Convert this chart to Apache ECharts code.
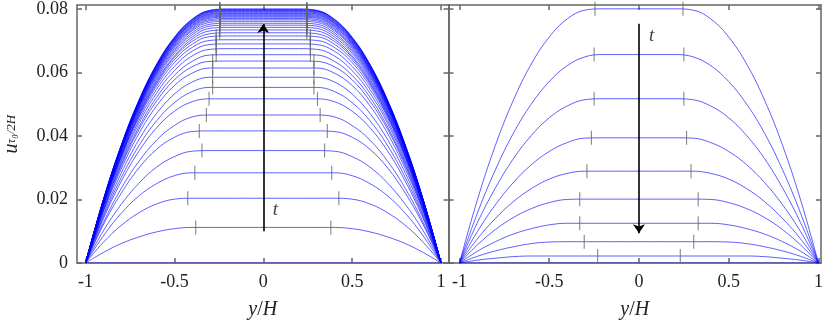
<!DOCTYPE html>
<html>
<head>
<meta charset="utf-8">
<script src="https://cdn.jsdelivr.net/npm/echarts@6/dist/echarts.min.js"></script>
<style>
html, body { margin: 0; padding: 0; background: #fff; }
#chart { width: 830px; height: 325px; }
</style>
</head>
<body>
<div id="chart"></div>
<script>
// half profiles are sampled at these distances from the wall (y/H + 1), centre = 1
const wallDist = [0, 0.1, 0.2, 0.3, 0.4, 0.5, 0.6, 0.7, 0.8, 1.0]
const xTicks = [-1, -0.5, 0, 0.5, 1]
const yTicks = [0, 0.02, 0.04, 0.06, 0.08]

// left panel: start-up, one half profile per time step
const startupProfiles = [
  [0, 0, 0, 0, 0, 0, 0, 0, 0, 0],
  [0, 0.0033, 0.0061, 0.0082, 0.0098, 0.0108, 0.0112, 0.0112, 0.0112, 0.0112],
  [0, 0.0065, 0.0118, 0.0158, 0.0186, 0.0201, 0.0204, 0.0204, 0.0204, 0.0204],
  [0, 0.0085, 0.0156, 0.0211, 0.0250, 0.0275, 0.0284, 0.0284, 0.0284, 0.0284],
  [0, 0.0101, 0.0184, 0.0251, 0.0302, 0.0335, 0.0352, 0.0354, 0.0354, 0.0354],
  [0, 0.0120, 0.0219, 0.0299, 0.0358, 0.0396, 0.0414, 0.0416, 0.0416, 0.0416],
  [0, 0.0127, 0.0234, 0.0320, 0.0387, 0.0433, 0.0460, 0.0466, 0.0466, 0.0466],
  [0, 0.0139, 0.0256, 0.0352, 0.0426, 0.0478, 0.0508, 0.0517, 0.0517, 0.0517],
  [0, 0.0145, 0.0268, 0.0369, 0.0448, 0.0505, 0.0540, 0.0553, 0.0553, 0.0553],
  [0, 0.0152, 0.0282, 0.0388, 0.0471, 0.0532, 0.0570, 0.0585, 0.0585, 0.0585],
  [0, 0.0160, 0.0295, 0.0407, 0.0495, 0.0559, 0.0598, 0.0614, 0.0614, 0.0614],
  [0, 0.0164, 0.0304, 0.0420, 0.0510, 0.0577, 0.0618, 0.0635, 0.0636, 0.0636],
  [0, 0.0167, 0.0310, 0.0428, 0.0522, 0.0591, 0.0635, 0.0655, 0.0656, 0.0656],
  [0, 0.0171, 0.0317, 0.0439, 0.0535, 0.0606, 0.0652, 0.0673, 0.0675, 0.0675],
  [0, 0.0175, 0.0324, 0.0448, 0.0547, 0.0619, 0.0667, 0.0688, 0.0690, 0.0690],
  [0, 0.0178, 0.0331, 0.0457, 0.0557, 0.0631, 0.0679, 0.0701, 0.0703, 0.0703],
  [0, 0.0180, 0.0334, 0.0462, 0.0564, 0.0640, 0.0689, 0.0713, 0.0715, 0.0715],
  [0, 0.0182, 0.0337, 0.0466, 0.0569, 0.0647, 0.0698, 0.0722, 0.0725, 0.0725],
  [0, 0.0183, 0.0339, 0.0470, 0.0574, 0.0652, 0.0705, 0.0731, 0.0734, 0.0734],
  [0, 0.0185, 0.0343, 0.0475, 0.0580, 0.0660, 0.0712, 0.0739, 0.0742, 0.0742],
  [0, 0.0186, 0.0346, 0.0479, 0.0586, 0.0666, 0.0719, 0.0746, 0.0749, 0.0749],
  [0, 0.0188, 0.0349, 0.0483, 0.0591, 0.0671, 0.0725, 0.0752, 0.0755, 0.0755],
  [0, 0.0189, 0.0352, 0.0487, 0.0595, 0.0676, 0.0731, 0.0758, 0.0761, 0.0761],
  [0, 0.0191, 0.0354, 0.0490, 0.0599, 0.0681, 0.0735, 0.0763, 0.0766, 0.0766],
  [0, 0.0192, 0.0356, 0.0493, 0.0602, 0.0684, 0.0739, 0.0767, 0.0770, 0.0770],
  [0, 0.0193, 0.0358, 0.0495, 0.0605, 0.0688, 0.0743, 0.0771, 0.0774, 0.0774],
  [0, 0.0193, 0.0359, 0.0497, 0.0608, 0.0691, 0.0746, 0.0774, 0.0777, 0.0777],
  [0, 0.0194, 0.0361, 0.0499, 0.0610, 0.0693, 0.0749, 0.0777, 0.0780, 0.0780],
  [0, 0.0195, 0.0362, 0.0501, 0.0612, 0.0696, 0.0752, 0.0780, 0.0783, 0.0783],
  [0, 0.0196, 0.0363, 0.0503, 0.0615, 0.0699, 0.0755, 0.0783, 0.0786, 0.0786],
  [0, 0.0196, 0.0364, 0.0504, 0.0616, 0.0700, 0.0756, 0.0785, 0.0788, 0.0788],
  [0, 0.0197, 0.0366, 0.0506, 0.0619, 0.0703, 0.0759, 0.0788, 0.0791, 0.0791],
  [0, 0.0197, 0.0367, 0.0508, 0.0620, 0.0705, 0.0761, 0.0790, 0.0793, 0.0793],
  [0, 0.0198, 0.0367, 0.0509, 0.0622, 0.0707, 0.0763, 0.0792, 0.0795, 0.0795],
  [0, 0.0198, 0.0368, 0.0510, 0.0623, 0.0708, 0.0765, 0.0794, 0.0797, 0.0797],
  [0, 0.0199, 0.0369, 0.0511, 0.0625, 0.0710, 0.0767, 0.0795, 0.0799, 0.0799],
  [0, 0.0199, 0.0370, 0.0512, 0.0626, 0.0711, 0.0768, 0.0796, 0.0800, 0.0800]
]
// |y/H| of the yield surface for each start-up profile (null = no mark)
const startupYield = [null, 0.38, 0.425, 0.385, 0.345, 0.36, 0.32, 0.305,
  0.285, 0.285, 0.285, 0.285, 0.265, 0.265, 0.265, 0.265, 0.265,
  0.245, 0.245, 0.245, 0.245, 0.245, 0.245, 0.245, 0.245, 0.245, 0.245,
  0.245, 0.245, 0.245, 0.245, 0.245, 0.245, 0.245, 0.245, 0.245, 0.245]

// right panel: decay
const stopProfiles = [
  [0, 0.0199, 0.0370, 0.0512, 0.0626, 0.0711, 0.0768, 0.0796, 0.0800, 0.0800],
  [0, 0.0157, 0.0293, 0.0408, 0.0500, 0.0571, 0.0621, 0.0649, 0.0656, 0.0656],
  [0, 0.0127, 0.0236, 0.0328, 0.0401, 0.0457, 0.0494, 0.0514, 0.0517, 0.0517],
  [0, 0.0099, 0.0183, 0.0253, 0.0309, 0.0351, 0.0379, 0.0393, 0.0394, 0.0394],
  [0, 0.0076, 0.0140, 0.0193, 0.0234, 0.0264, 0.0282, 0.0289, 0.0289, 0.0289],
  [0, 0.0057, 0.0105, 0.0143, 0.0171, 0.0190, 0.0200, 0.0201, 0.0201, 0.0201],
  [0, 0.0037, 0.0067, 0.0091, 0.0108, 0.0120, 0.0125, 0.0125, 0.0125, 0.0125],
  [0, 0.0021, 0.0038, 0.0051, 0.0061, 0.0066, 0.0067, 0.0067, 0.0067, 0.0067],
  [0, 0.0009, 0.0015, 0.0020, 0.0022, 0.0022, 0.0022, 0.0022, 0.0022, 0.0022],
  [0, 0, 0, 0, 0, 0, 0, 0, 0, 0]
]
const stopYield = [0.245, 0.25, 0.25, 0.265, 0.29, 0.33, 0.33, 0.305, 0.23, null]

const arrowUp = [[0, 0.0100], [0, 0.0753]]
const arrowDown = [[0, 0.0753], [0, 0.0094]]
const tUp = [0.068, 0.0167]
const tDown = [0.07, 0.0713]

const SERIF = 'Liberation Serif'

function profilePoints(half) {
  let pts = []
  for (let i = 0; i < half.length; i++) pts.push([-1 + wallDist[i], half[i]])
  for (let i = half.length - 2; i >= 0; i--) pts.push([1 - wallDist[i], half[i]])
  return pts
}

function yieldPoints(profiles, yields) {
  let pts = []
  profiles.forEach(function (half, i) {
    if (yields[i] == null) return
    let plateau = half[half.length - 1]
    pts.push([-yields[i], plateau])
    pts.push([yields[i], plateau])
  })
  return pts
}

function panelSeries(profiles, yields, arrow, tPos, idx) {
  let list = profiles.map(function (half) {
    return {
      type: 'line',
      xAxisIndex: idx,
      yAxisIndex: idx,
      data: profilePoints(half),
      symbol: 'none',
      smooth: 0.4,
      silent: true,
      lineStyle: { color: '#0000ff', width: 0.9, opacity: 0.7 },
      z: 2
    }
  })
  list.push({
    type: 'scatter',
    xAxisIndex: idx,
    yAxisIndex: idx,
    data: yieldPoints(profiles, yields),
    symbol: 'rect',
    symbolSize: [1.1, 14],
    itemStyle: { color: '#666' },
    silent: true,
    z: 3
  })
  list.push({
    type: 'lines',
    coordinateSystem: 'cartesian2d',
    xAxisIndex: idx,
    yAxisIndex: idx,
    data: [{ coords: arrow }],
    symbol: ['none', 'arrow'],
    symbolSize: 9,
    lineStyle: { color: '#000', width: 1.6, opacity: 1 },
    silent: true,
    z: 4
  })
  list.push({
    type: 'scatter',
    xAxisIndex: idx,
    yAxisIndex: idx,
    data: [tPos],
    symbolSize: 0,
    label: {
      show: true,
      position: 'inside',
      formatter: 't',
      fontFamily: SERIF,
      fontStyle: 'italic',
      fontSize: 19,
      color: '#111'
    },
    silent: true,
    z: 5
  })
  return list
}

const lineStyle = { color: '#666', width: 1.5 }

function xAxis(grid, min, max, pos, labels) {
  return {
    type: 'value', gridIndex: grid, position: pos, min: min, max: max,
    name: labels ? '{i|y}{n|/}{i|H}' : '',
    nameLocation: 'middle', nameGap: 37,
    nameTextStyle: {
      rich: {
        i: { fontFamily: SERIF, fontStyle: 'italic', fontSize: 20, color: '#222' },
        n: { fontFamily: SERIF, fontSize: 20, color: '#222' }
      }
    },
    axisLine: { show: true, onZero: false, lineStyle: lineStyle },
    axisTick: { show: true, inside: true, length: 5, lineStyle: lineStyle, customValues: xTicks },
    axisLabel: { show: labels, customValues: xTicks, margin: 10, fontFamily: SERIF, fontSize: 18, color: '#222' },
    splitLine: { show: false }
  }
}

function yAxis(grid, pos, labels, name) {
  return {
    type: 'value', gridIndex: grid, position: pos, min: 0, max: 0.0812,
    name: name ? '{u|u}{s|τ₀/2H}' : '',
    nameLocation: 'middle', nameGap: 55, nameRotate: 90,
    nameTextStyle: {
      rich: {
        u: { fontFamily: SERIF, fontStyle: 'italic', fontSize: 20, color: '#222' },
        s: { fontFamily: SERIF, fontStyle: 'italic', fontSize: 13, color: '#222' }
      }
    },
    axisLine: { show: true, onZero: false, lineStyle: lineStyle },
    axisTick: { show: true, inside: true, length: 5, lineStyle: lineStyle, customValues: yTicks },
    axisLabel: { show: labels, customValues: yTicks, margin: 9, fontFamily: SERIF, fontSize: 18, color: '#222' },
    splitLine: { show: false }
  }
}

const chart = echarts.init(document.getElementById('chart'), null, { renderer: 'canvas' })
chart.setOption({
  animation: false,
  backgroundColor: '#fff',
  grid: [
    { left: 77, top: 5, width: 371.5, height: 260 },
    { left: 448.5, top: 5, width: 372.5, height: 260 }
  ],
  xAxis: [
    xAxis(0, -1.048, 1.042, 'bottom', true),
    xAxis(1, -1.061, 1.014, 'bottom', true),
    xAxis(0, -1.048, 1.042, 'top', false),
    xAxis(1, -1.061, 1.014, 'top', false)
  ],
  yAxis: [
    yAxis(0, 'left', true, true),
    yAxis(1, 'left', false, false),
    yAxis(0, 'right', false, false),
    yAxis(1, 'right', false, false)
  ],
  series: panelSeries(startupProfiles, startupYield, arrowUp, tUp, 0)
    .concat(panelSeries(stopProfiles, stopYield, arrowDown, tDown, 1))
})
</script>
</body>
</html>
